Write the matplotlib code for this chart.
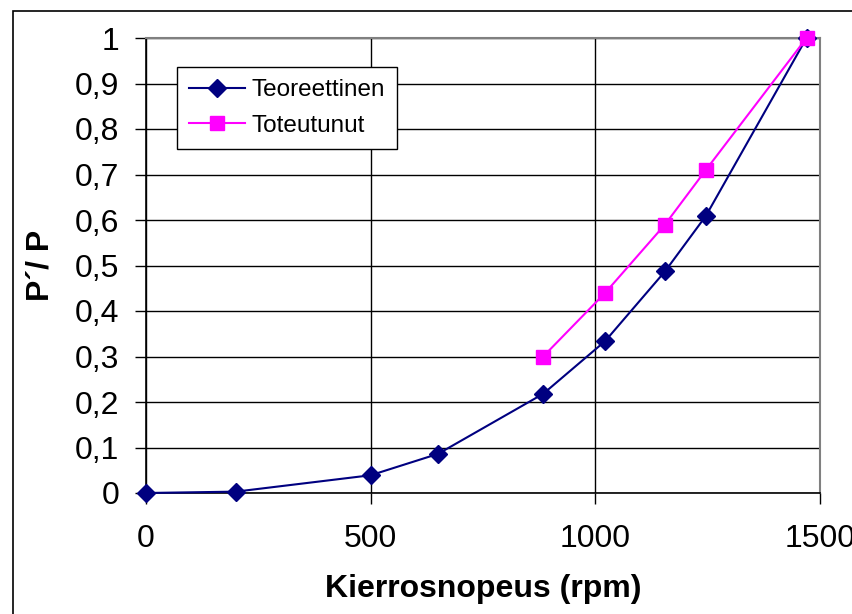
import matplotlib.pyplot as plt
from matplotlib.patches import Rectangle
from matplotlib.ticker import FuncFormatter

# Kierrosnopeus (rpm) ja tehosuhde P'/P
rpm_teor = [0, 200, 500, 650, 884, 1022, 1155, 1246, 1470]
p_teor = [0, 0.003, 0.039, 0.086, 0.218, 0.334, 0.487, 0.609, 1.0]

rpm_tot = [884, 1022, 1155, 1246, 1470]
p_tot = [0.30, 0.44, 0.59, 0.71, 1.0]

x_ticks = [0, 500, 1000, 1500]
y_ticks = [0, 0.1, 0.2, 0.3, 0.4, 0.5, 0.6, 0.7, 0.8, 0.9, 1.0]

plt.rcParams['font.family'] = ['Liberation Sans', 'DejaVu Sans']

W, H = 853, 614
fig = plt.figure(figsize=(W / 100, H / 100), dpi=100)

# ulkokehys
fig.patches.append(Rectangle((13 / W, -0.1), 1.2, 1 - 11 / H + 0.1,
                             transform=fig.transFigure, fill=False,
                             edgecolor='black', linewidth=1.2))

ax = fig.add_axes([146 / W, 1 - 493 / H, (820 - 146) / W, (493 - 38) / H])

ax.plot(rpm_teor, p_teor, color='#000080', marker='D', markersize=9,
        linewidth=1.5, label='Teoreettinen', clip_on=False, zorder=3)
ax.plot(rpm_tot, p_tot, color='#FF00FF', marker='s', markersize=10,
        linewidth=1.5, label='Toteutunut', clip_on=False, zorder=3)

ax.set_xlim(0, 1500)
ax.set_ylim(0, 1)
ax.set_xticks(x_ticks)
ax.set_yticks(y_ticks)
ax.yaxis.set_major_formatter(FuncFormatter(lambda v, _: ('%g' % round(v, 1)).replace('.', ',')))
ax.grid(True, color='black', linewidth=1)
ax.set_axisbelow(True)

ax.tick_params(axis='both', direction='out', length=8, width=1, color='black',
               labelsize=23)
ax.tick_params(axis='y', pad=11)
ax.tick_params(axis='x', pad=14)
for side in ['left', 'bottom']:
    ax.spines[side].set_color('black')
    ax.spines[side].set_linewidth(1.2)
for side in ['right', 'top']:
    ax.spines[side].set_color('#808080')
    ax.spines[side].set_linewidth(1.5)

ax.set_xlabel('Kierrosnopeus (rpm)', fontsize=23, fontweight='bold', labelpad=15)
ax.set_ylabel('P´/ P', fontsize=23, fontweight='bold', labelpad=14)

leg = ax.legend(loc='upper left', bbox_to_anchor=(177 / W, 1 - 67 / H),
                bbox_transform=fig.transFigure, borderaxespad=0,
                fontsize=17.5, frameon=True, fancybox=False, framealpha=1,
                edgecolor='black', handlelength=2.3, handletextpad=0.25,
                labelspacing=0.55, borderpad=0.5)
leg.get_frame().set_linewidth(1)

fig.savefig('out.png', dpi=100)
